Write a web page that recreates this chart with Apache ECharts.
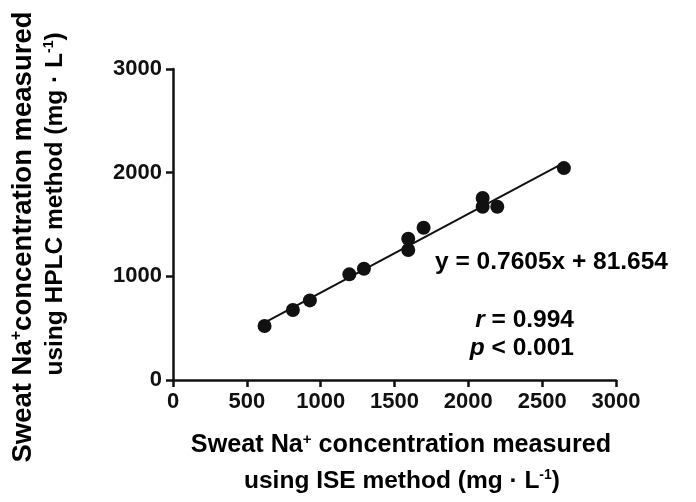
<!DOCTYPE html>
<html>
<head>
<meta charset="utf-8">
<script src="https://cdn.jsdelivr.net/npm/echarts@6/dist/echarts.min.js"></script>
<style>
html,body{margin:0;padding:0;background:#fff;}
#c{width:696px;height:502px;}
</style>
</head>
<body>
<div id="c"></div>
<script>
// ISE method (x) vs HPLC method (y), mg·L-1
var iseValues = [620, 812, 927, 1194, 1293, 1593, 1593, 1697, 2097, 2097, 2196, 2647];
var hplcValues = [521, 675, 768, 1019, 1073, 1363, 1254, 1469, 1755, 1671, 1671, 2044];
var slope = 0.7605;
var intercept = 81.654;
var xTicks = [0, 500, 1000, 1500, 2000, 2500, 3000];
var yTicks = [0, 1000, 2000, 3000];

var FONT = 'Liberation Sans, Arial, sans-serif';
var INK = '#111';
var points = iseValues.map(function (v, i) { return [v, hplcValues[i]]; });
var xMin = Math.min.apply(null, iseValues), xMax = Math.max.apply(null, iseValues);
var fitLine = [[xMin, slope * xMin + intercept], [xMax, slope * xMax + intercept]];

var chart = echarts.init(document.getElementById('c'), null, {renderer: 'canvas'});
function plain(v) { return String(v); }
var axisCommon = {
  type: 'value',
  axisLine: {show: true, onZero: false, lineStyle: {color: INK, width: 2.5}},
  axisTick: {show: true, length: 7, lineStyle: {color: INK, width: 2.5}},
  splitLine: {show: false},
  axisLabel: {color: INK, fontFamily: FONT, fontWeight: 'bold', fontSize: 22, formatter: plain}
};
function supRich(size) {
  return {
    n: {fontFamily: FONT, fontWeight: 'bold', fontSize: size, color: INK},
    s: {fontFamily: FONT, fontWeight: 'bold', fontSize: Math.round(size * 0.58), color: INK, verticalAlign: 'top', padding: [0, 0, Math.round(size * 0.45), 0]}
  };
}
var annRich = {
  i: {fontFamily: FONT, fontWeight: 'bold', fontStyle: 'italic', fontSize: 24.5, color: INK},
  n: {fontFamily: FONT, fontWeight: 'bold', fontSize: 24.5, color: INK}
};
chart.setOption({
  animation: false,
  backgroundColor: '#fff',
  grid: {left: 173, right: 80, top: 69, bottom: 122, containLabel: false},
  xAxis: Object.assign({}, axisCommon, {
    min: xTicks[0], max: xTicks[xTicks.length - 1], interval: xTicks[1] - xTicks[0],
    axisLabel: Object.assign({}, axisCommon.axisLabel, {margin: 11})
  }),
  yAxis: Object.assign({}, axisCommon, {
    min: yTicks[0], max: yTicks[yTicks.length - 1], interval: yTicks[1] - yTicks[0],
    axisLabel: Object.assign({}, axisCommon.axisLabel, {margin: 11})
  }),
  series: [
    {
      type: 'line', data: fitLine, symbol: 'none',
      lineStyle: {color: INK, width: 2}, z: 2
    },
    {
      type: 'scatter', data: points, symbol: 'circle', symbolSize: 14,
      itemStyle: {color: INK, opacity: 1}, z: 3
    }
  ],
  graphic: [
    {type: 'text', x: 401, y: 445,
     style: {text: '{n|Sweat Na}{s|+}{n| concentration measured}', rich: supRich(25.2), align: 'center', verticalAlign: 'middle'}},
    {type: 'text', x: 402, y: 481,
     style: {text: '{n|using ISE method (mg · L}{s|-1}{n|)}', rich: supRich(24.5), align: 'center', verticalAlign: 'middle'}},
    {type: 'text', x: 23, y: 237, rotation: Math.PI / 2,
     style: {text: '{n|Sweat Na}{s|+}{n|concentration measured}', rich: supRich(27.5), align: 'center', verticalAlign: 'middle'}},
    {type: 'text', x: 55, y: 204, rotation: Math.PI / 2,
     style: {text: '{n|using HPLC method (mg · L}{s|-1}{n|)}', rich: supRich(24.5), align: 'center', verticalAlign: 'middle'}},
    {type: 'text', x: 668, y: 262,
     style: {text: '{n|y = 0.7605x + 81.654}', rich: annRich, align: 'right', verticalAlign: 'middle'}},
    {type: 'text', x: 574, y: 320,
     style: {text: '{i|r}{n| = 0.994}', rich: annRich, align: 'right', verticalAlign: 'middle'}},
    {type: 'text', x: 574, y: 348,
     style: {text: '{i|p}{n| < 0.001}', rich: annRich, align: 'right', verticalAlign: 'middle'}}
  ]
});
</script>
</body>
</html>
